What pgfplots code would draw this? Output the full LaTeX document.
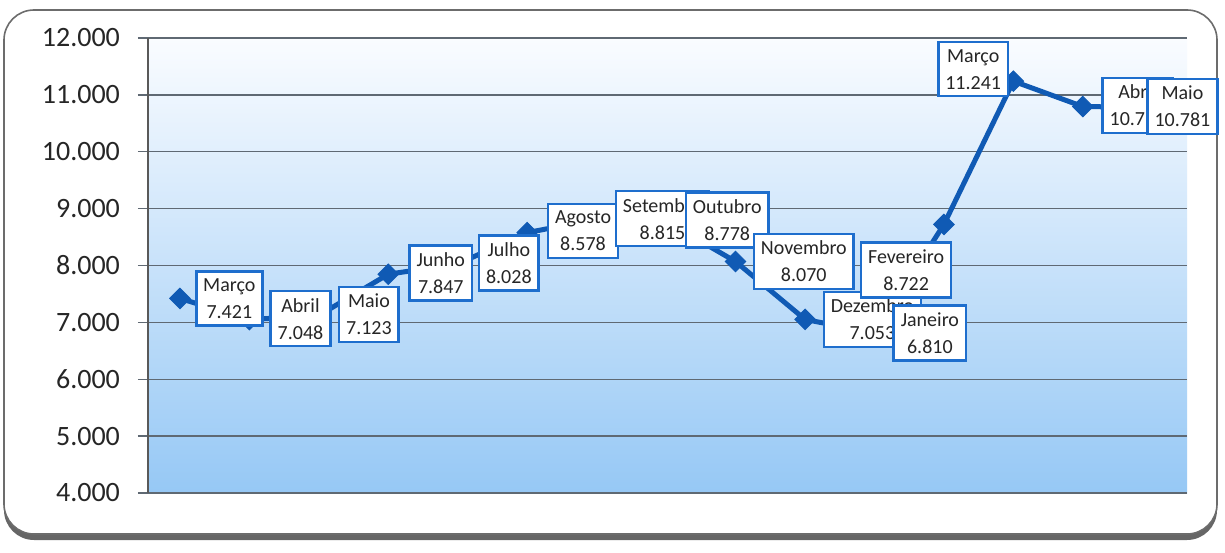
\documentclass[border=0pt]{standalone}
\usepackage{pgfplots}
\pgfplotsset{compat=1.18}
\usepackage{fontspec}
\setmainfont{Carlito}
\definecolor{lineblue}{RGB}{16,90,180}
\definecolor{boxblue}{RGB}{30,110,205}
\definecolor{bgtop}{RGB}{250,252,255}
\definecolor{bgbot}{RGB}{150,200,245}
\definecolor{gridc}{RGB}{95,105,115}

\begin{document}
\begin{tikzpicture}
\useasboundingbox (-74pt,-29.5pt) rectangle (538.5pt,246.5pt);
\fill[gray!80!black, rounded corners=15pt] (-72pt,-23.5pt) rectangle (534.5pt,241.5pt);
\filldraw[fill=white, draw=gray!85!black, line width=0.8pt, rounded corners=15pt] (-72pt,-20.5pt) rectangle (534.5pt,241.5pt);
\begin{axis}[
  at={(0,0)}, anchor=south west,
  scale only axis, width=519.5pt, height=227.5pt,
  xmin=-0.46, xmax=14.5, ymin=4000, ymax=12000,
  ytick={4000,5000,...,12000},
  scaled y ticks=false,
  xtick=\empty,
  axis y line*=left, axis x line*=bottom,
  axis line style={-},
  x axis line style={draw=none},
  y axis line style={draw=gray!70!black, line width=0.6pt},
  ymajorgrids, grid style={draw=gridc, line width=0.7pt},
  tick align=outside, major tick length=5pt,
  ytick style={draw=gridc, line width=0.7pt},
  yticklabel style={font=\fontsize{14}{16}\selectfont, text=black!85, xshift=-5.5pt},
  /pgf/number format/1000 sep={.},
  /pgf/number format/assume math mode=true,
  axis background/.style={shade, top color=bgtop, bottom color=bgbot},
  clip=false,
]
\addplot[lineblue, line width=2.5pt, mark=square*, mark size=3.6pt,
  mark options={rotate=45, line width=0.5pt}] table[x=x,y=y] {
x y
0 7421
1 7048
2 7123
3 7847
4 8028
5 8578
6 8815
7 8778
8 8070
9 7053
10 6810
11 8722
12 11241
13 10795
14 10781
};
\addplot[draw=none, mark=none,
  point meta=y,
  visualization depends on={value \thisrow{name}\as\mname},
  visualization depends on={value \thisrow{anc}\as\manc},
  visualization depends on={\thisrow{dx}\as\mdx},
  visualization depends on={\thisrow{dy}\as\mdy},
  nodes near coords={\mname\\\pgfmathprintnumber{\pgfplotspointmeta}},
  every node near coord/.append style={anchor=\manc, xshift=\mdx pt, yshift=\mdy pt,
    draw=boxblue, fill=white, line width=1.3pt, align=center, text=black!85,
    font=\fontsize{10}{13.5}\selectfont, inner sep=3.5pt},
] table[x=x,y=y] {
x y name anc dx dy
0 7421 Março west 7.5 0
1 7048 Abril west 10 0.5
2 7123 Maio west 9.5 0.5
3 7847 Junho west 10 0.5
4 8028 Julho west 10 0.5
5 8578 Agosto west 9.75 0.8
6 8815 Setembro west 9 0.25
7 8778 Outubro west 9.25 0.5
8 8070 Novembro west 8.5 0
9 7053 Dezembro west 8.75 0
10 6810 Janeiro west 9 0
11 8722 Fevereiro east 4.25 -22.8
12 11241 Março east -2 6
13 10795 Abril west 9.25 0.5
14 10781 Maio west -3 0.5
};
\end{axis}
\end{tikzpicture}
\end{document}
